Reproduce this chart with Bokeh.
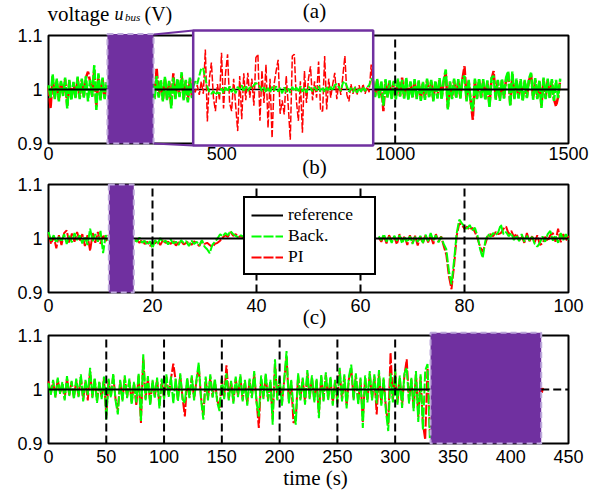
from bokeh.plotting import figure
from bokeh.models import (Range1d, FixedTicker, NumeralTickFormatter, Label,
                          Legend, LegendItem, LinearAxis)
from bokeh.embed import file_html
from bokeh.resources import INLINE

# ------------------------------------------------------------------ data
# all series are deviations of u_bus from 1 p.u., in thousandths
REF = 1.0
Y_TICKS = [0.9, 1.0, 1.1]

# ---- panel (a): 0..1500 s
A_TICKS = [0, 500, 1000, 1500]
A_EVENTS = [1000]
A_WINDOW = (170, 303)           # zoomed window (purple)
a1_t0, a2_t0, a3_t0, a_dt = 0, 300, 936, 6
back_a1 = [8, -15, 28, -18, 20, -22, 16, -12, 22, -35, 18, -20, 14, -16, 24,
           -18, 20, -15, 25, -22, 18, -14, 45, -38, 30, -20, 22, -18, 15]
pi_a1 = [6, -35, 24, -15, 17, -19, 14, -10, 19, -30, 15, -17, 12, -14, 21,
         -15, 17, -13, 22, 33, 15, -12, 38, -32, 26, -17, 19, -15, 13]
back_a2 = [20, -18, 25, -15, 18, -22, 24, -20, 16, -35, 22, -18, 20, -14, 32,
           -20, 18, -24, 22, -16]
pi_a2 = [17, -15, 40, -13, 15, -19, 20, -17, 14, -30, 30, -15, 17, -12, 27,
         -17, 15, -20, 19, -14]
back_a3 = [18, -14, 20, -16, 15, -30, 19, -15, 17, -18,
           16, -19, 20, -13, 18, -17, 22, -20, 15, -16,
           19, -18, 17, -21, 14, -19, 20, -15, 18, -22,
           16, -17, 21, -19, 18, 37, -37, 15, -18, 20,
           -16, 19, -17, 22, 25, -22, 18, -25, -40, 20,
           -18, 21, -16, 19, -20, 17, -34, 22, 25, -19,
           18, -21, 20, -17, 22, 34, -31, 33, -18, 20,
           -17, 19, -22, 18, -16, 20, 31, -19, 21, -18,
           17, -34, 22, -18, 20, -17, 19, -21, 18, -16, 20]
pi_a3 = [15, -12, 17, -14, 13, -40, 16, -13, 15, -16,
         14, -16, 17, -12, 22, -15, 18, -17, 13, -14,
         16, -15, 15, -18, 12, -16, 17, -13, 16, -19,
         14, -15, 18, -16, 16, 30, -34, 13, -16, 17,
         -14, 16, -15, 19, 43, -19, 16, -22, -56, 17,
         -16, 18, -14, 16, -17, 15, -30, 19, 34, -16,
         16, -18, 17, -15, 19, 30, -28, 28, -16, 17,
         -15, 16, -19, 16, -14, 17, 28, -16, 18, -16,
         15, -30, 19, -16, 17, -15, 16, -18, -31, -14, 17]
# zoomed window (inset), uniform samples over A_WINDOW
pi_zoom = [0, -5, 8, -10, 15, -8, 74, -59, 20, 50,
           -15, -40, 10, -20, 68, -35, 30, 65, -25, -40,
           20, -30, -77, 25, -55, 30, -20, 31, -15, 20,
           -30, 59, 65, -58, 35, -25, 46, -71, 20, -90,
           10, 34, 55, -45, -20, -46, 25, -30, -93, 62,
           65, -20, -58, 15, -80, 34, -25, 20, 43, -20,
           15, -15, 52, -40, -40, 62, -37, 20, -15, 10,
           31, -18, 12, -10, 25, 62, -10, -22, 10, -8,
           6, -10, 8, -6, 10, -8, 5, -5, 46, -10]
back_zoom = [5, 15, 10, 25, 40, 38, 20, 5, -5, -8,
             -3, -10, -5, -8, 2, -6, 4, -4, 6, -5,
             3, -7, 5, 0, 8, -4, 6, -3, 4, 2,
             8, 12, 10, 5, -3, 4, -5, 3, -6, 5,
             -2, 6, -4, 3, -7, 4, -5, 2, -6, 5,
             -3, 4, -5, 6, -4, 3, -6, 5, 2, -3,
             4, -2, 6, -4, 3, -5, 4, -3, 5, -2,
             8, 10, 4, -3, 12, 15, 6, -4, 3, -5,
             4, -6, 3, -4, 5, -3, 4, 8, 20, 15]

# ---- panel (b): 0..100 s
B_TICKS = [0, 20, 40, 60, 80, 100]
B_EVENTS = [20, 40, 60, 80]
B_WINDOW = (11.6, 16.4)
b1_t0, b2_t0, b3_t0, b_dt = 0, 16.5, 63.5, 0.5
back_b1 = [12, -4, 6, -8, 3, -6, 8, -10, 5, -7, 10, -3, 6, -9, 4, -12, 18, -5,
           8, -6, 14, -27, 6, -4]
pi_b1 = [8, -10, 4, -18, 6, -12, 10, 15, -8, 9, -6, 12, -5, 8, -14, 6, -23, 10,
         -8, 12, -10, 7, -5, 6]
back_b2 = [-2, -6, 2, -8, -4, -12, -5, -18, -3, -10,
           1, -7, -4, -11, -2, -9, -6, -12, -3, -8,
           -5, -14, -4, -10, -6, -13, -3, -15, -20, -27,
           -12, -6, 0, 8, 4, 10, 6, 14, 8, 5,
           2, 6, 3]
pi_b2 = [-5, -3, -8, -2, -10, -6, -14, -7, -9, -4,
         -12, -3, -8, -6, -10, -4, -13, -7, -5, -11,
         -8, -6, -12, -5, -9, -14, -4, -10, -8, -12,
         -16, -10, -8, -4, 2, 6, 3, 12, 5, 8,
         3, 4, 2]
back_b3 = [4, -3, 8, -6, 3, -8, 5, -4, 6, -9,
           2, -7, 4, -10, 3, -6, 5, -8, 7, -5,
           10, -4, 6, -7, 3, -10, -20, -60, -85, -40,
           10, 35, 28, 22, 18, 25, 15, 20, 5, -20,
           -36, -5, 8, 3, 10, 6, 12, 26, 8, 12,
           4, 10, -3, 6, -5, 8, -6, 5, -4, 3,
           -10, -15, -8, 4, -6, 8, 14, -4, 6, -8,
           10, -3, 8, -2]
pi_b3 = [2, -6, 5, -9, 6, -4, 3, -11, 8, -5,
         4, -12, 6, -8, 5, -13, 4, -9, 6, -7,
         5, -10, 8, -6, 4, -14, -30, -70, -94, -50,
         5, 28, 25, 18, 22, 16, 20, 12, 0, -15,
         -25, -10, 5, 8, 4, 12, 8, 10, 18, 22,
         8, 14, 3, 9, -4, 5, -8, 10, -5, 4,
         -7, 6, -12, -9, 3, -5, 6, 10, -6, 18,
         -7, 8, -4, 5]

# ---- panel (c): 0..450 s
C_TICKS = [0, 50, 100, 150, 200, 250, 300, 350, 400, 450]
C_EVENTS = [50, 100, 150, 200, 250, 300]
C_WINDOW = (330.6, 426.4)
c_t0, c_dt = 0, 2
back_c = [12, -10, 18, -15, 22, -8, 14, -20, 25, -12,
          16, -18, 20, -14, 28, -22, 18, -10, 40, -16,
          22, -25, 15, -18, 24, -56, 20, -15, 30, -20,
          -46, 18, -22, 26, -16, 20, -28, 14, -24, 30,
          -59, 65, -20, 25, -30, 18, -15, 22, -35, 20,
          -18, 28, -14, 24, -26, 20, -22, 30, -18, -25,
          22, -16, 26, -20, 18, 50, -18, -56, 24, -20,
          28, -15, 20, -24, -40, 22, -18, 30, -20, 16,
          -26, 24, -14, 28, -22, 18, -30, 20, -16, 34,
          -24, -50, 26, -18, 30, -22, 18, -65, 56, -20,
          24, -30, 20, 71, -26, 18, -34, -65, 30, -20,
          22, -28, 36, -18, 26, -24, 20, -53, 28, -22,
          32, -20, 24, -30, 18, -26, 40, -22, 28, -35,
          24, 46, -20, 30, -28, 22, -71, 26, -24, 34,
          -20, 28, -26, 36, -30, 22, -40, -77, 30, -24,
          38, -28, 26, -34, 30, 40, -26, 22, -40, 34,
          -60, 28, -75, 35, 47, -90]
pi_c = [15, -8, 15, -13, 19, -7, 12, -17, 21, -10,
        14, -15, 17, -12, 24, -19, 15, -20, 34, -14,
        19, -21, 13, -15, 20, -48, 17, -13, 26, -17,
        -39, 15, -19, 22, -14, 17, -24, 12, -30, 26,
        -62, 60, -17, 21, -26, 15, -13, 19, -30, 17,
        -15, 24, -12, 20, 48, 17, -19, 26, -15, -50,
        19, -14, 22, -17, 15, 43, -15, -48, 20, -17,
        24, -13, 17, -20, -34, 19, -15, 45, -17, 14,
        -22, 20, -12, 24, -19, 15, -26, 17, -14, 29,
        -20, -71, 22, -15, 26, -19, 15, -55, 48, -17,
        20, -26, 17, 60, -22, 15, -62, -55, 26, -17,
        19, -24, 30, -15, 22, -20, 17, -45, 24, -19,
        27, -17, 20, -26, 15, -22, 34, -19, 24, -30,
        20, 39, -17, 26, -24, 19, -60, 22, -20, 29,
        -17, 24, -46, 30, -26, 19, -34, -65, 68, -20,
        32, -24, 22, -29, 26, 56, -22, 19, -34, 29,
        -51, 24, -64, -93, 40, -77]
pi_c_tail_t = [426, 427, 428]
pi_c_tail = [4, -6, 3]
C_REF_DASHED = (426.4, 450)

# ------------------------------------------------------------------ style / layout
GREEN, RED, PURPLE, EDGE = "#00FF00", "#FF0000", "#7030A0", "#BCA8DA"
SANS, SERIF = "Liberation Sans", "Liberation Serif"
SIG_DASH = "10 2"
PAGE_W, PAGE_H = 604, 491
BOX_L, BOX_W, BOX_H = 48, 520, 108        # plot boxes in pixels
BASELINE_FIX = -7                          # renderer puts alphabetic baseline low

# One canvas, page-pixel default ranges (y downward); each panel gets its own ranges.
p = figure(frame_width=PAGE_W, frame_height=PAGE_H,
           x_range=Range1d(0, PAGE_W), y_range=Range1d(PAGE_H, 0),
           x_axis_location=None, y_axis_location=None,
           output_backend="svg", toolbar_location=None,
           min_border=0, min_border_left=0, min_border_right=0,
           min_border_top=0, min_border_bottom=0)
p.grid.visible = False
p.outline_line_color = None
p.background_fill_color = "white"
p.border_fill_color = "white"

xr, yr = {}, {}
panels = {}


def define_panel(name, xlim, box_top):
    sx = BOX_W / float(xlim[1] - xlim[0])
    sy = BOX_H / (Y_TICKS[-1] - Y_TICKS[0])
    x0 = xlim[0] - BOX_L / sx
    ytop = Y_TICKS[-1] + box_top / sy
    xr["x" + name] = Range1d(x0, x0 + PAGE_W / sx)
    yr["y" + name] = Range1d(ytop - PAGE_H / sy, ytop)
    panels[name] = dict(xlim=xlim, sx=sx, sy=sy, box_top=box_top)


define_panel("a", (0, 1500), 35)
define_panel("b", (0, 100), 184)
define_panel("c", (0, 450), 335)
# inset of panel (a): the zoomed window spread over pixels 192.7..372.7
IN_L, IN_R, IN_T, IN_B = 192.7, 372.7, 30, 145
sz = (IN_R - IN_L) / float(A_WINDOW[1] - A_WINDOW[0])
xr["xz"] = Range1d(A_WINDOW[0] - IN_L / sz, A_WINDOW[0] - IN_L / sz + PAGE_W / sz)
p.extra_x_ranges = xr
p.extra_y_ranges = yr


def R(name):
    return dict(x_range_name="x" + name, y_range_name="y" + name)


def axes(name, xticks, x_standoff):
    xlim = panels[name]["xlim"]
    common = dict(axis_line_color=None, major_tick_line_color=None,
                  minor_tick_line_color=None, major_tick_in=0, major_tick_out=0,
                  minor_tick_in=0, minor_tick_out=0, major_label_text_font=SANS,
                  major_label_text_font_size="18px", major_label_text_color="black")
    xa = LinearAxis(fixed_location=Y_TICKS[0], ticker=FixedTicker(ticks=xticks),
                    major_label_standoff=x_standoff, **R(name), **common)
    ya = LinearAxis(fixed_location=xlim[0], ticker=FixedTicker(ticks=Y_TICKS),
                    formatter=NumeralTickFormatter(format="0.[0]"),
                    major_label_standoff=6, **R(name), **common)
    p.add_layout(xa, "below")
    p.add_layout(ya, "left")
    p.quad(left=xlim[0], right=xlim[1], bottom=Y_TICKS[0], top=Y_TICKS[-1],
           fill_color=None, line_color="black", line_width=2, **R(name))


def volts(dev):
    return [REF + d / 1000.0 for d in dev]


def times(t0, dt, n):
    return [t0 + dt * i for i in range(n)]


def signals(name, segs, width):
    rr = gr = None
    for t0, dt, g, r in segs:
        rr = p.line(times(t0, dt, len(r)), volts(r), color=RED, line_width=width,
                    line_dash=SIG_DASH, **R(name))
    for t0, dt, g, r in segs:
        gr = p.line(times(t0, dt, len(g)), volts(g), color=GREEN, line_width=width,
                    line_dash=SIG_DASH, **R(name))
    return gr, rr


def events(name, ts):
    p.segment(x0=ts, x1=ts, y0=[Y_TICKS[0]] * len(ts), y1=[Y_TICKS[-1]] * len(ts),
              color="black", line_width=2, line_dash="8 4", **R(name))


def window(name, w, top):
    p.quad(left=w[0], right=w[1], bottom=Y_TICKS[0], top=top,
           fill_color=PURPLE, line_color=EDGE, line_width=2, line_dash="6 4",
           **R(name))


def text(px, py, s, size, align="left", style="normal"):
    p.add_layout(Label(x=px, y=py + BASELINE_FIX, text=s, text_font=SERIF,
                       text_font_size=size, text_align=align,
                       text_baseline="alphabetic", text_font_style=style,
                       text_color="black"))


# ------------------------------------------------------------------ panel (a)
axes("a", A_TICKS, 3)
signals("a", [(a1_t0, a_dt, back_a1, pi_a1), (a2_t0, a_dt, back_a2, pi_a2),
              (a3_t0, a_dt, back_a3, pi_a3)], 2.5)
p.line([0, 1500], [REF, REF], color="black", line_width=2, **R("a"))
events("a", A_EVENTS)
window("a", A_WINDOW, 1.103)
# connectors + inset frame (pixel layout)
p.segment(x0=[153.3, 153.3], y0=[34, 143], x1=[IN_L, IN_L], y1=[IN_T, IN_B],
          color=PURPLE, line_width=2)
p.quad(left=IN_L, right=IN_R, bottom=IN_B, top=IN_T, fill_color="white",
       line_color=None)
p.line([A_WINDOW[0], A_WINDOW[1]], [REF, REF], color="black", line_width=1.5,
       x_range_name="xz", y_range_name="ya")
nz = len(pi_zoom)
tz = [A_WINDOW[0] + (A_WINDOW[1] - A_WINDOW[0]) * i / (nz - 1) for i in range(nz)]
p.line(tz, volts(pi_zoom), color=RED, line_width=1.5, line_dash="7 2",
       x_range_name="xz", y_range_name="ya")
ng = len(back_zoom)
tg = [A_WINDOW[0] + (A_WINDOW[1] - A_WINDOW[0]) * i / (ng - 1) for i in range(ng)]
p.line(tg, volts(back_zoom), color=GREEN, line_width=2, line_dash="7 2",
       x_range_name="xz", y_range_name="ya")
p.quad(left=IN_L, right=IN_R, bottom=IN_B, top=IN_T, fill_color=None,
       line_color=PURPLE, line_width=2.5)

text(47, 20.5, "voltage", "21px")
text(114, 20.5, "u", "18px", style="italic")
text(124.5, 23.5, "bus", "11px", style="italic")
text(144, 20.5, "(V)", "20px")
text(314, 17.5, "(a)", "21px", align="center")

# ------------------------------------------------------------------ panel (b)
axes("b", B_TICKS, 6)
gb, rb = signals("b", [(b1_t0, b_dt, back_b1, pi_b1), (b2_t0, b_dt, back_b2, pi_b2),
                       (b3_t0, b_dt, back_b3, pi_b3)], 2)
refb = p.line([0, 100], [REF, REF], color="black", line_width=2, **R("b"))
events("b", B_EVENTS)
window("b", B_WINDOW, 1.1)
leg = Legend(items=[LegendItem(label="reference", renderers=[refb]),
                    LegendItem(label="Back.", renderers=[gb]),
                    LegendItem(label="PI", renderers=[rb])],
             location=(243, PAGE_H - 275), padding=6, spacing=0, margin=0,
             glyph_width=32, glyph_height=18, label_height=20, label_width=80,
             label_standoff=5, label_text_font=SERIF,
             label_text_font_size="17.5px", label_text_color="black",
             border_line_color="black", border_line_width=2.5,
             border_line_alpha=1.0,
             background_fill_color="white", background_fill_alpha=1.0)
p.add_layout(leg)
text(314, 173, "(b)", "21px", align="center")

# ------------------------------------------------------------------ panel (c)
axes("c", C_TICKS, 6)
signals("c", [(c_t0, c_dt, back_c, pi_c)], 2)
p.line(pi_c_tail_t, volts(pi_c_tail), color=RED, line_width=2, **R("c"))
p.line([0, C_WINDOW[0]], [REF, REF], color="black", line_width=2, **R("c"))
p.line(list(C_REF_DASHED), [REF, REF], color="black", line_width=2,
       line_dash="8 4", **R("c"))
events("c", C_EVENTS)
window("c", C_WINDOW, 1.105)
text(314, 323.5, "(c)", "21px", align="center")
text(315, 484, "time (s)", "21px", align="center")

open("out.html", "w").write(file_html(p, INLINE))
